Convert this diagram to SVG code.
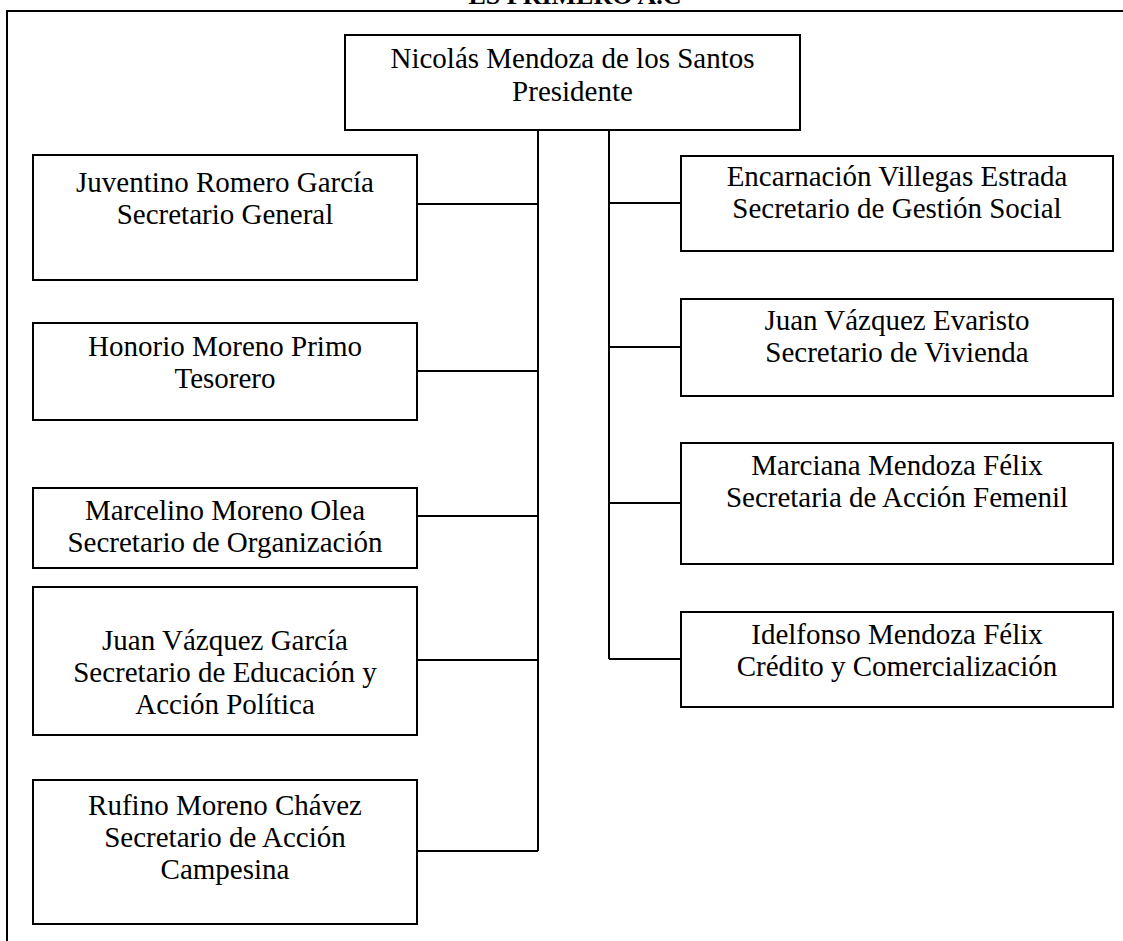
<svg xmlns="http://www.w3.org/2000/svg" width="1123" height="941" viewBox="0 0 1123 941">
  <style>
    .frame { fill: none; stroke: #000; stroke-width: 2; }
    .box { fill: #fff; stroke: #000; stroke-width: 2; }
    .link { fill: none; stroke: #000; stroke-width: 2; }
    .label { font-family: "Liberation Serif", "Times New Roman", serif; font-size: 29px; fill: #000; text-anchor: middle; }
    .title { font-family: "Liberation Serif", "Times New Roman", serif; font-size: 26px; font-weight: bold; fill: #000; text-anchor: middle; }
  </style>
  <rect width="1123" height="941" fill="#fff"/>

  <!-- page heading, running off the top edge -->
  <text class="title" x="575" y="4">ES PRIMERO A.C</text>

  <!-- outer frame -->
  <path class="frame" d="M7,941 V11 H1123"/>

  <!-- connectors -->
  <g id="connectors">
    <path class="link" d="M538,130 V851"/>
    <path class="link" d="M609,130 V659"/>
    <path class="link" d="M417,204 H538"/>
    <path class="link" d="M417,371 H538"/>
    <path class="link" d="M417,516 H538"/>
    <path class="link" d="M417,660 H538"/>
    <path class="link" d="M417,851 H538"/>
    <path class="link" d="M609,203 H681"/>
    <path class="link" d="M609,347 H681"/>
    <path class="link" d="M609,503 H681"/>
    <path class="link" d="M609,659 H681"/>
  </g>

  <g id="presidente">
    <rect class="box" x="345" y="35" width="455" height="95"/>
    <text class="label" x="572.5" y="68">Nicolás Mendoza de los Santos</text>
    <text class="label" x="572.5" y="100.5">Presidente</text>
  </g>

  <g id="secretario-general">
    <rect class="box" x="33" y="155" width="384" height="125"/>
    <text class="label" x="225" y="192">Juventino Romero García</text>
    <text class="label" x="225" y="224">Secretario General</text>
  </g>

  <g id="tesorero">
    <rect class="box" x="33" y="323" width="384" height="97"/>
    <text class="label" x="225" y="356">Honorio Moreno Primo</text>
    <text class="label" x="225" y="388">Tesorero</text>
  </g>

  <g id="organizacion">
    <rect class="box" x="33" y="488" width="384" height="80"/>
    <text class="label" x="225" y="520">Marcelino Moreno Olea</text>
    <text class="label" x="225" y="552">Secretario de Organización</text>
  </g>

  <g id="educacion">
    <rect class="box" x="33" y="587" width="384" height="148"/>
    <text class="label" x="225" y="650">Juan Vázquez García</text>
    <text class="label" x="225" y="682">Secretario de Educación y</text>
    <text class="label" x="225" y="714">Acción Política</text>
  </g>

  <g id="campesina">
    <rect class="box" x="33" y="780" width="384" height="144"/>
    <text class="label" x="225" y="815">Rufino Moreno Chávez</text>
    <text class="label" x="225" y="847">Secretario de Acción</text>
    <text class="label" x="225" y="879">Campesina</text>
  </g>

  <g id="gestion-social">
    <rect class="box" x="681" y="156" width="432" height="95"/>
    <text class="label" x="897" y="186">Encarnación Villegas Estrada</text>
    <text class="label" x="897" y="218">Secretario de Gestión Social</text>
  </g>

  <g id="vivienda">
    <rect class="box" x="681" y="299" width="432" height="97"/>
    <text class="label" x="897" y="330">Juan Vázquez Evaristo</text>
    <text class="label" x="897" y="362">Secretario de Vivienda</text>
  </g>

  <g id="accion-femenil">
    <rect class="box" x="681" y="443" width="432" height="121"/>
    <text class="label" x="897" y="475">Marciana Mendoza Félix</text>
    <text class="label" x="897" y="507">Secretaria de Acción Femenil</text>
  </g>

  <g id="credito">
    <rect class="box" x="681" y="612" width="432" height="95"/>
    <text class="label" x="897" y="644">Idelfonso Mendoza Félix</text>
    <text class="label" x="897" y="676">Crédito y Comercialización</text>
  </g>
</svg>
